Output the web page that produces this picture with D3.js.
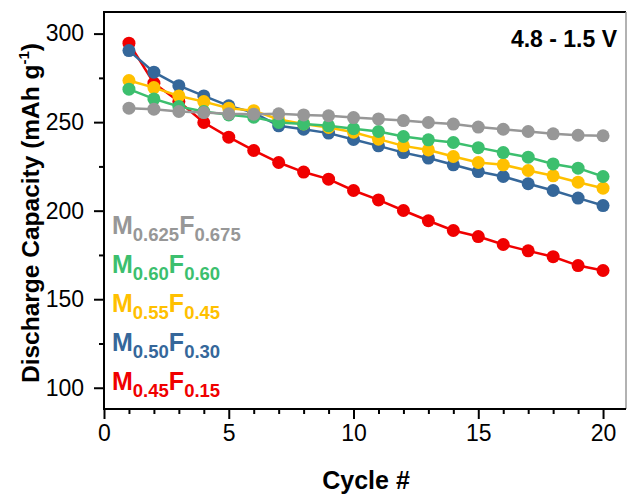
<!DOCTYPE html>
<html>
<head>
<meta charset="utf-8">
<script src="https://cdn.jsdelivr.net/npm/d3@7"></script>
<style>
  html, body { margin: 0; padding: 0; background: #fff; }
  svg { display: block; font-family: "Liberation Sans", Arial, sans-serif; }
</style>
</head>
<body>
<svg id="chart" width="628" height="494"></svg>
<script>
const cycles = [1,2,3,4,5,6,7,8,9,10,11,12,13,14,15,16,17,18,19,20];

const seriesNames = ["M0.45F0.15", "M0.50F0.30", "M0.55F0.45", "M0.60F0.60", "M0.625F0.675"];
const seriesM = ["0.45", "0.50", "0.55", "0.60", "0.625"];
const seriesF = ["0.15", "0.30", "0.45", "0.60", "0.675"];
const seriesColors = ["#f00000", "#35679a", "#ffc000", "#3cbf6e", "#979797"];

const redValues    = [294.6, 272.0, 261.6, 249.8, 241.5, 234.0, 227.2, 221.8, 217.8, 211.4, 206.1, 200.1, 194.3, 188.8, 185.4, 180.9, 177.3, 174.0, 169.0, 166.2];
const blueValues   = [290.4, 278.2, 270.6, 264.8, 259.2, 255.4, 247.9, 246.0, 243.8, 240.2, 236.6, 232.8, 229.7, 225.9, 222.1, 219.3, 215.2, 211.4, 207.1, 202.9];
const yellowValues = [273.5, 269.5, 264.8, 261.6, 257.9, 256.5, 251.5, 249.0, 247.0, 244.3, 240.4, 236.6, 234.3, 230.6, 227.2, 225.9, 222.7, 219.7, 216.1, 212.7];
const greenValues  = [268.6, 263.1, 258.8, 256.0, 254.1, 252.8, 249.8, 249.0, 247.9, 246.3, 244.7, 241.9, 240.0, 238.5, 235.6, 232.8, 230.2, 226.4, 224.0, 219.3];
const grayValues   = [257.9, 257.3, 256.0, 255.4, 254.7, 254.5, 254.7, 254.1, 253.6, 252.6, 251.8, 250.9, 249.8, 248.9, 247.2, 246.0, 244.7, 243.4, 242.6, 242.3];

const xTicks = [0, 5, 10, 15, 20];
const yTicks = [100, 150, 200, 250, 300];
const xLabel = "Cycle #";
const annotation = "4.8 - 1.5 V";

const allValues = [redValues, blueValues, yellowValues, greenValues, grayValues];

const svg = d3.select("#chart");
const pLeft = 104, pRight = 626, pTop = 12, pBottom = 409;

const x = d3.scaleLinear().domain([0, 20.92]).range([pLeft, pRight]);
const y = d3.scaleLinear().domain([88, 312.2]).range([pBottom, pTop]);

// frame top and right
svg.append("line").attr("x1", pLeft).attr("x2", pRight).attr("y1", pTop).attr("y2", pTop)
  .attr("stroke", "#000").attr("stroke-width", 2);
svg.append("line").attr("x1", pRight).attr("x2", pRight).attr("y1", pTop).attr("y2", pBottom)
  .attr("stroke", "#999").attr("stroke-width", 1.5);

// x axis
const xMinor = d3.range(0, 21, 1).filter(v => v % 5 !== 0);
const gxMinor = svg.append("g").attr("transform", `translate(0,${pBottom})`)
  .call(d3.axisBottom(x).tickValues(xMinor).tickSize(5).tickFormat(""));
const gx = svg.append("g").attr("transform", `translate(0,${pBottom})`)
  .call(d3.axisBottom(x).tickValues(xTicks).tickSize(10).tickPadding(6).tickFormat(d3.format("d")));
[gxMinor, gx].forEach(g => {
  g.select(".domain").remove();
  g.selectAll(".tick line").attr("stroke", "#000").attr("stroke-width", 2);
});
gx.selectAll(".tick text").attr("font-size", 23).attr("fill", "#000")
  .attr("font-family", "Liberation Sans, Arial, sans-serif");
svg.append("line").attr("x1", pLeft - 1).attr("x2", pRight).attr("y1", pBottom).attr("y2", pBottom)
  .attr("stroke", "#000").attr("stroke-width", 2);

// y axis
const yMinor = [125, 175, 225, 275];
const gyMinor = svg.append("g").attr("transform", `translate(${pLeft},0)`)
  .call(d3.axisLeft(y).tickValues(yMinor).tickSize(5).tickFormat(""));
const gy = svg.append("g").attr("transform", `translate(${pLeft},0)`)
  .call(d3.axisLeft(y).tickValues(yTicks).tickSize(10).tickPadding(10).tickFormat(d3.format("d")));
[gyMinor, gy].forEach(g => {
  g.select(".domain").remove();
  g.selectAll(".tick line").attr("stroke", "#000").attr("stroke-width", 2);
});
gy.selectAll(".tick text").attr("font-size", 23).attr("fill", "#000")
  .attr("font-family", "Liberation Sans, Arial, sans-serif");
svg.append("line").attr("x1", pLeft).attr("x2", pLeft).attr("y1", pTop - 1).attr("y2", pBottom + 1)
  .attr("stroke", "#000").attr("stroke-width", 2);

// series
const line = d3.line().x((d, i) => x(cycles[i])).y(d => y(d));
allValues.forEach((vals, si) => {
  const g = svg.append("g");
  g.append("path").datum(vals).attr("d", line)
    .attr("fill", "none").attr("stroke", seriesColors[si]).attr("stroke-width", 2.5);
  g.selectAll("circle").data(vals).join("circle")
    .attr("cx", (d, i) => x(cycles[i])).attr("cy", d => y(d)).attr("r", 6.5)
    .attr("fill", seriesColors[si]);
});

// legend labels (gray at top, red at bottom)
const legendBase = [390, 351, 312, 273, 234];
seriesNames.forEach((name, si) => {
  const t = svg.append("text").attr("x", 112).attr("y", legendBase[si])
    .attr("fill", seriesColors[si]).attr("font-weight", "bold").attr("font-size", 25);
  t.append("tspan").text("M");
  t.append("tspan").text(seriesM[si]).attr("font-size", 18.5).attr("dy", 7);
  t.append("tspan").text("F").attr("dy", -7);
  t.append("tspan").text(seriesF[si]).attr("font-size", 18.5).attr("dy", 7);
});

// annotation
svg.append("text").attr("x", 617).attr("y", 47).attr("text-anchor", "end")
  .attr("font-weight", "bold").attr("font-size", 23).attr("fill", "#000").text(annotation);

// axis titles
svg.append("text").attr("x", 366).attr("y", 489).attr("text-anchor", "middle")
  .attr("font-weight", "bold").attr("font-size", 25).attr("fill", "#000").text(xLabel);

const yt = svg.append("text").attr("transform", "translate(39,213) rotate(-90)")
  .attr("text-anchor", "middle").attr("font-weight", "bold").attr("font-size", 24.5).attr("fill", "#000");
yt.append("tspan").text("Discharge Capacity (mAh g");
yt.append("tspan").text("-1").attr("font-size", 15).attr("dy", -10);
yt.append("tspan").text(")").attr("dy", 10);
</script>
</body>
</html>
